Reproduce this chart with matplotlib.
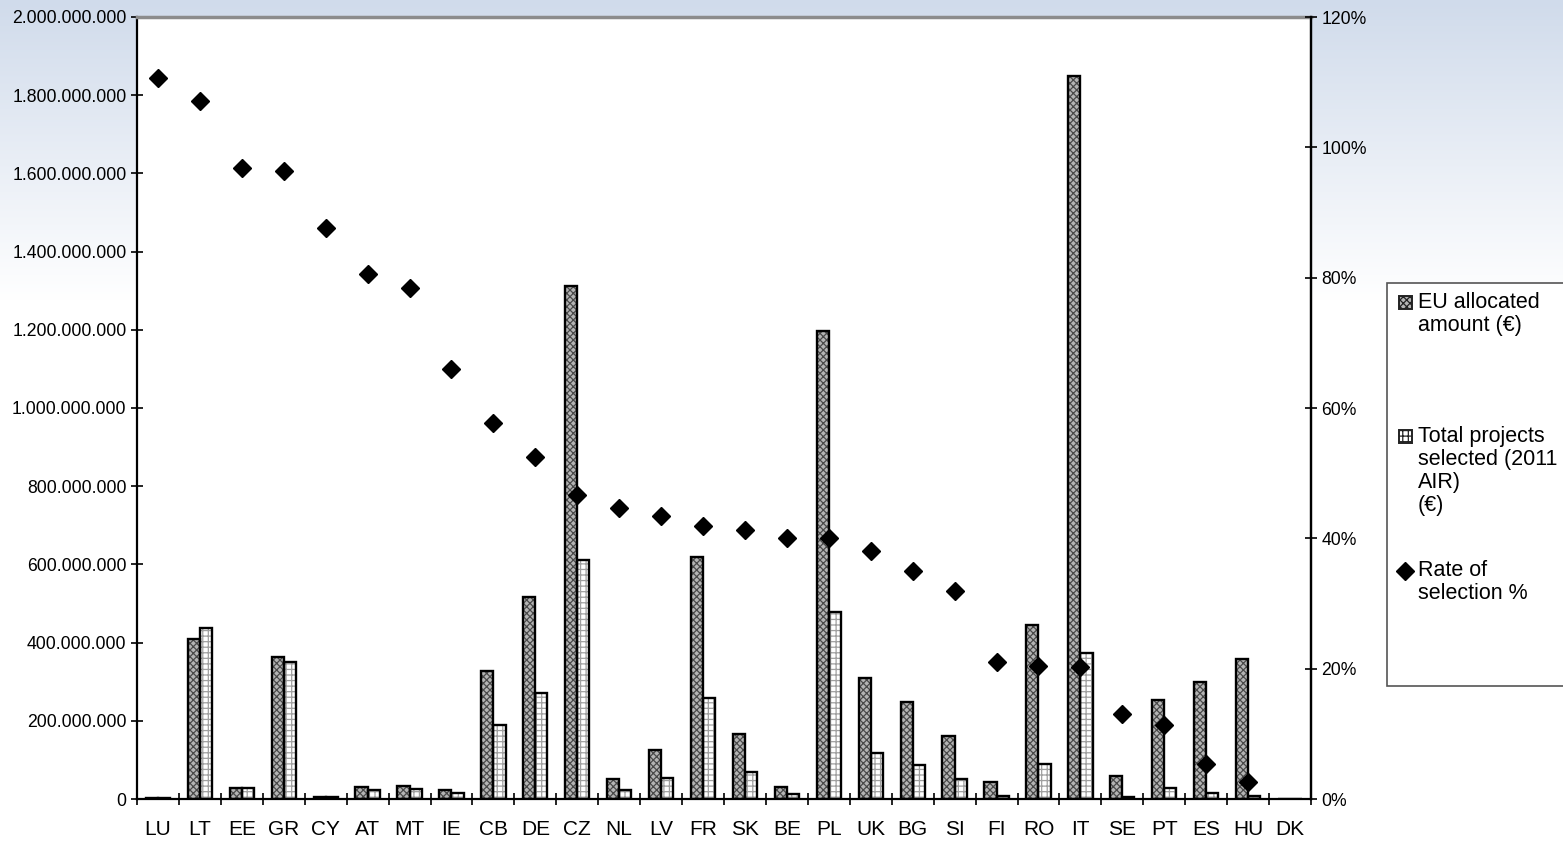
import numpy as np
import matplotlib
matplotlib.use('Agg')
import matplotlib.pyplot as plt
from matplotlib.patches import Rectangle

plt.rcParams['font.family'] = ['Liberation Sans', 'DejaVu Sans']
plt.rcParams['hatch.linewidth'] = 0.9

# --- data ---
countries = ['LU', 'LT', 'EE', 'GR', 'CY', 'AT', 'MT', 'IE', 'CB', 'DE', 'CZ', 'NL', 'LV', 'FR',
             'SK', 'BE', 'PL', 'UK', 'BG', 'SI', 'FI', 'RO', 'IT', 'SE', 'PT', 'ES', 'HU', 'DK']
eu_allocated = [2e6, 408e6, 28e6, 363e6, 5e6, 31e6, 34e6, 24e6, 327e6, 517e6, 1312e6, 52e6, 126e6, 618e6,
                167e6, 30e6, 1197e6, 310e6, 248e6, 160e6, 44e6, 445e6, 1850e6, 60e6, 252e6, 298e6, 358e6, 0]
total_selected = [2e6, 437e6, 28e6, 350e6, 4e6, 24e6, 26e6, 16e6, 189e6, 270e6, 612e6, 22e6, 54e6, 258e6,
                  68e6, 12e6, 478e6, 118e6, 87e6, 50e6, 8e6, 90e6, 373e6, 6e6, 27e6, 15e6, 8e6, 0]
rate_pct = [110.7, 107.1, 96.8, 96.4, 87.6, 80.6, 78.4, 66.0, 57.7, 52.5, 46.6, 44.7, 43.4, 41.9,
            41.3, 40.0, 40.0, 38.1, 35.0, 31.9, 21.0, 20.4, 20.3, 13.0, 11.4, 5.4, 2.6, np.nan]

W, H = 1563, 842
fig = plt.figure(figsize=(W / 100, H / 100), dpi=100)

# slide background: light blue fading to white
bg = fig.add_axes([0, 0, 1, 1], zorder=-10)
grad = np.ones((H, 1, 3))
top = np.array([208, 219, 235]) / 255
fade = 300
for r in range(fade):
    t = r / fade
    grad[r, 0] = top * (1 - t) + np.ones(3) * t
bg.imshow(grad, aspect='auto', extent=[0, 1, 0, 1], origin='upper')
bg.axis('off')

ax = fig.add_axes([137 / W, 1 - 799 / H, (1311 - 137) / W, (799 - 17) / H])
ax.set_facecolor('white')
x = np.arange(len(countries))
bw = 0.29
eu_face, eu_hatch = '#b4b4b4', '#4a4a4a'

# EU allocated: stippled grey
ax.bar(x - bw / 2, eu_allocated, bw, color=eu_face, edgecolor=eu_hatch, hatch='xxxxx', linewidth=0, zorder=2)
ax.bar(x - bw / 2, eu_allocated, bw, fill=False, edgecolor='black', linewidth=1.7, zorder=3)
# Total projects selected: white with grey grid
ax.bar(x + bw / 2, total_selected, bw, color='white', edgecolor='#a0a0a0', hatch='+++', linewidth=0, zorder=2)
ax.bar(x + bw / 2, total_selected, bw, fill=False, edgecolor='black', linewidth=1.7, zorder=3)

ax.set_xlim(-0.5, len(countries) - 0.5)
ax.set_ylim(0, 2e9)
yt = np.arange(0, 2.0e9 + 1, 2e8)
ax.set_yticks(yt)
ax.set_yticklabels([f"{v:,.0f}".replace(',', '.') for v in yt], fontsize=12.7)
ax.tick_params(axis='y', direction='inout', length=9, width=1.2, pad=3)

ax.set_xticks(x)
ax.set_xticklabels(countries, fontsize=15)
ax.set_xticks(np.arange(-0.5, len(countries)), minor=True)
ax.tick_params(axis='x', which='major', length=0, pad=15)
ax.tick_params(axis='x', which='minor', direction='inout', length=9, width=1.2)

for s in ['left', 'bottom', 'right']:
    ax.spines[s].set_linewidth(1.6)
    ax.spines[s].set_color('black')
ax.spines['top'].set_color('#8c8c8c')
ax.spines['top'].set_linewidth(2.5)

ax2 = ax.twinx()
ax2.plot(x, rate_pct, linestyle='none', marker='D', markersize=9.5, color='black', zorder=5)
ax2.set_ylim(0, 120)
ax2.set_yticks(np.arange(0, 121, 20))
ax2.set_yticklabels([f"{v}%" for v in range(0, 121, 20)], fontsize=12.7)
ax2.tick_params(axis='y', direction='inout', length=9, width=1.2, pad=3)
ax2.spines['right'].set_linewidth(1.6)
for s in ['left', 'bottom', 'top']:
    ax2.spines[s].set_visible(False)

# legend box in Excel style
fx = lambda px: px / W
fy = lambda py: 1 - py / H
fig.patches.append(Rectangle((fx(1387), fy(686)), fx(1600) - fx(1387), fy(283) - fy(686),
                             transform=fig.transFigure, facecolor='white', edgecolor='#555555',
                             linewidth=1.2, zorder=1))
entries = [
    ('EU allocated\namount (€)', 303, dict(facecolor=eu_face, hatch='xxxxx')),
    ('Total projects\nselected (2011\nAIR)\n(€)', 437, dict(facecolor='white', hatch='+++')),
    ('Rate of\nselection %', 571, None),
]
for label, yc, style in entries:
    if style is None:
        fig.lines.append(plt.Line2D([fx(1405)], [fy(yc)], marker='D', markersize=9, color='black',
                                    linestyle='none', transform=fig.transFigure, zorder=2))
    else:
        fig.patches.append(Rectangle((fx(1399), fy(yc + 6)), fx(13), 13 / H, transform=fig.transFigure,
                                     facecolor=style['facecolor'], hatch=style['hatch'],
                                     edgecolor='#222222', linewidth=1.4, zorder=2))
    fig.text(fx(1418), fy(yc - 11), label, fontsize=15.5, va='top', ha='left', linespacing=1.12, zorder=3)

fig.savefig('out.png', dpi=100)
